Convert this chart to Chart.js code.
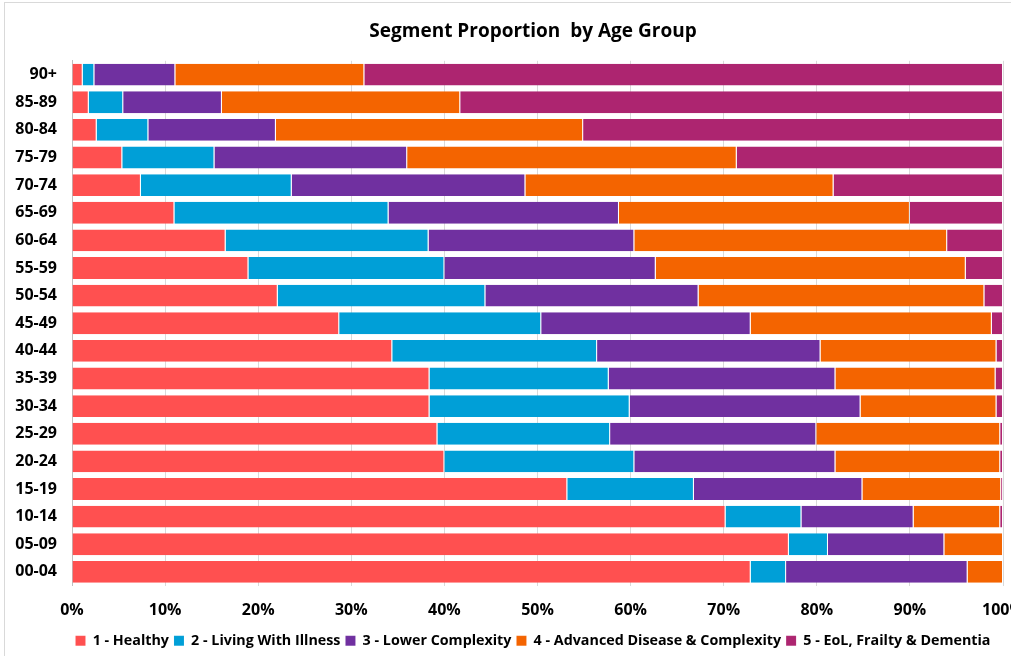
<!DOCTYPE html>
<html>
<head>
<meta charset="utf-8">
<script src="https://cdn.jsdelivr.net/npm/chart.js@4"></script>
<style>
    html, body { margin: 0; padding: 0; background: #fff; overflow: hidden; }
    #wrap { position: relative; width: 1011px; height: 656px; overflow: hidden; }
    #frame { position: absolute; left: 4px; top: 2px; width: 1100px; height: 700px;
             border-left: 1px solid #d9d9d9; border-top: 1px solid #d9d9d9; pointer-events: none; }
    canvas { position: absolute; left: 0; top: 0; }
</style>
</head>
<body>
<div id="wrap">
    <canvas id="chart" width="1066" height="656"></canvas>
    <div id="frame"></div>
</div>
<script>
'use strict'

// age groups, top to bottom
const ageGroups = ['90+', '85-89', '80-84', '75-79', '70-74', '65-69', '60-64', '55-59', '50-54',
    '45-49', '40-44', '35-39', '30-34', '25-29', '20-24', '15-19', '10-14', '05-09', '00-04'];

// percentage of each segment per age group (same order as ageGroups)
const healthy        = [1.15, 1.8, 2.65, 5.4, 7.4, 11.0, 16.5, 18.95, 22.1, 28.7, 34.4, 38.4, 38.4, 39.25, 40.0, 53.2, 70.2, 77.0, 72.9];
const livingIllness  = [1.25, 3.7, 5.55, 9.9, 16.2, 23.0, 21.8, 21.05, 22.3, 21.7, 22.0, 19.25, 21.5, 18.55, 20.4, 13.6, 8.15, 4.2, 3.8];
const lowerComplex   = [8.7, 10.6, 13.7, 20.7, 25.1, 24.75, 22.1, 22.7, 22.9, 22.5, 24.0, 24.35, 24.8, 22.15, 21.6, 18.1, 12.05, 12.5, 19.5];
const advancedDis    = [20.3, 25.6, 33.0, 35.4, 33.1, 31.25, 33.6, 33.3, 30.7, 25.9, 18.9, 17.2, 14.6, 19.75, 17.7, 14.9, 9.3, 6.3, 3.8];
const eolFrailty     = [68.6, 58.3, 45.1, 28.6, 18.2, 10.0, 6.0, 4.0, 2.0, 1.2, 0.7, 0.8, 0.7, 0.3, 0.3, 0.2, 0.3, 0.0, 0.0];

const xTicks = [0, 10, 20, 30, 40, 50, 60, 70, 80, 90, 100];

const seriesNames = ['1 - Healthy', '2 - Living With Illness', '3 - Lower Complexity',
    '4 - Advanced Disease & Complexity', '5 - EoL, Frailty & Dementia'];
const seriesData = [healthy, livingIllness, lowerComplex, advancedDis, eolFrailty];
const seriesColors = ['#FF5050', '#009FD7', '#7030A0', '#F46400', '#AD2570'];

const fontFamily = "'Open Sans', Lato, sans-serif";

const datasets = seriesNames.map((name, i) => ({
    label: name,
    data: seriesData[i],
    backgroundColor: seriesColors[i],
    borderColor: 'rgba(255,255,255,0.25)',
    borderWidth: { left: 0, right: 1, top: 0, bottom: 0 },
    borderSkipped: false,
    barPercentage: 0.79,
    categoryPercentage: 1.0
}));

new Chart(document.getElementById('chart'), {
    type: 'bar',
    data: { labels: ageGroups, datasets: datasets },
    options: {
        responsive: false,
        animation: false,
        indexAxis: 'y',
        layout: { padding: { left: 0, right: 0, top: 0, bottom: -2 } },
        scales: {
            x: {
                stacked: true,
                min: 0,
                max: 100,
                afterBuildTicks: (scale) => { scale.ticks = xTicks.map(v => ({ value: v })); },
                afterFit: (scale) => { scale.height = 43; },
                grid: { color: '#d9d9d9', drawTicks: false },
                border: { display: false },
                ticks: {
                    padding: 15,
                    color: '#000',
                    font: { family: fontFamily, size: 16, weight: 'bold' },
                    callback: (v) => v + '%'
                }
            },
            y: {
                stacked: true,
                afterFit: (scale) => { scale.width = 72; },
                grid: { display: false, drawTicks: false },
                border: { display: true, color: '#bfbfbf' },
                ticks: {
                    padding: 15,
                    color: '#000',
                    font: { family: fontFamily, size: 16, weight: 'bold' }
                }
            },
            // empty space on the right, the chart is cut off there
            yRight: {
                type: 'category',
                position: 'right',
                afterFit: (scale) => { scale.width = 63; },
                grid: { display: false, drawTicks: false },
                border: { display: false },
                ticks: { display: false }
            }
        },
        plugins: {
            title: {
                display: true,
                text: 'Segment Proportion  by Age Group',
                color: '#000',
                font: { family: fontFamily, size: 19, weight: 'bold' },
                padding: { top: 20, bottom: 18 }
            },
            legend: {
                position: 'bottom',
                labels: {
                    color: '#000',
                    boxWidth: 10,
                    boxHeight: 10,
                    padding: 5,
                    font: { family: fontFamily, size: 14.3, weight: 'bold' }
                }
            },
            tooltip: { enabled: false }
        }
    }
});
</script>
</body>
</html>
